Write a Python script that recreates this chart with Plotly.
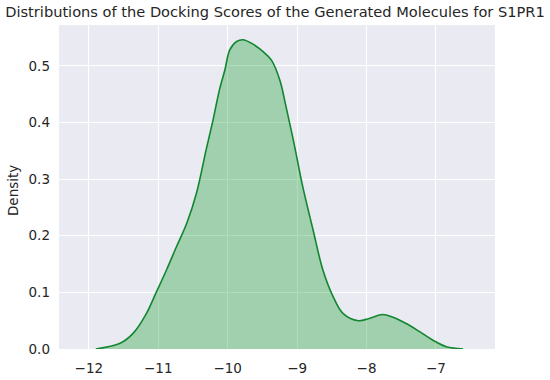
import plotly.graph_objects as go

# Docking score (x) and estimated KDE density (y)
scores = [-11.9, -11.55, -11.36, -11.17, -11.03, -10.88, -10.74, -10.59, -10.45,
          -10.31, -10.21, -10.12, -10.04, -9.97, -9.87, -9.78, -9.66, -9.49, -9.37,
          -9.25, -9.16, -9.04, -8.92, -8.77, -8.63, -8.48, -8.34, -8.12, -7.96,
          -7.77, -7.62, -7.43, -7.24, -7.05, -6.85, -6.61]
density = [0.0, 0.01, 0.028, 0.063, 0.1, 0.14, 0.18, 0.222, 0.275,
           0.352, 0.405, 0.457, 0.493, 0.528, 0.543, 0.546, 0.54, 0.525, 0.51,
           0.475, 0.428, 0.36, 0.287, 0.21, 0.14, 0.092, 0.063, 0.05, 0.054,
           0.061, 0.056, 0.045, 0.031, 0.016, 0.004, 0.0]

x_ticks = [-12, -11, -10, -9, -8, -7]
y_ticks = [0.0, 0.1, 0.2, 0.3, 0.4, 0.5]
y_tick_labels = ["0.0", "0.1", "0.2", "0.3", "0.4", "0.5"]

title = "Distributions of the Docking Scores of the Generated Molecules for S1PR1"
y_title = "Density"

fig = go.Figure()
fig.add_trace(go.Scatter(
    x=scores, y=density, mode="lines",
    line=dict(color="#11862f", width=1.6, shape="spline", smoothing=1.0),
    fill="tozeroy", fillcolor="rgba(25,160,51,0.35)",
    showlegend=False, hoverinfo="skip",
))

font_fam = "DejaVu Sans"
fig.update_layout(
    width=550, height=380,
    margin=dict(l=59, r=55, t=25, b=31, autoexpand=False),
    paper_bgcolor="white",
    plot_bgcolor="#EAEAF2",
    font=dict(family=font_fam, size=13, color="#262626"),
    title=dict(text=title, x=0.5, xanchor="center", y=0.968, yanchor="middle",
               font=dict(family=font_fam, size=14.6, color="#262626")),
    xaxis=dict(range=[-12.43, -6.15], tickvals=x_ticks, showgrid=True,
               gridcolor="white", gridwidth=1.3, zeroline=False, showline=False,
               ticks="", tickfont=dict(size=13.5), automargin=False,
               ticklabelstandoff=9),
    yaxis=dict(range=[0, 0.572], tickvals=y_ticks, ticktext=y_tick_labels,
               showgrid=True, gridcolor="white", gridwidth=1.3, zeroline=False,
               showline=False, ticks="", tickfont=dict(size=13.5),
               automargin=False, ticklabelstandoff=8),
    annotations=[dict(text=y_title, xref="paper", yref="paper",
                      x=-0.106, y=0.49, xanchor="center", yanchor="middle",
                      textangle=-90, showarrow=False,
                      font=dict(family=font_fam, size=13.5, color="#262626"))],
)

fig.write_html("out.html",
               config={"displayModeBar": False},
               post_script="document.body.style.margin='0';document.body.style.overflow='hidden';")
